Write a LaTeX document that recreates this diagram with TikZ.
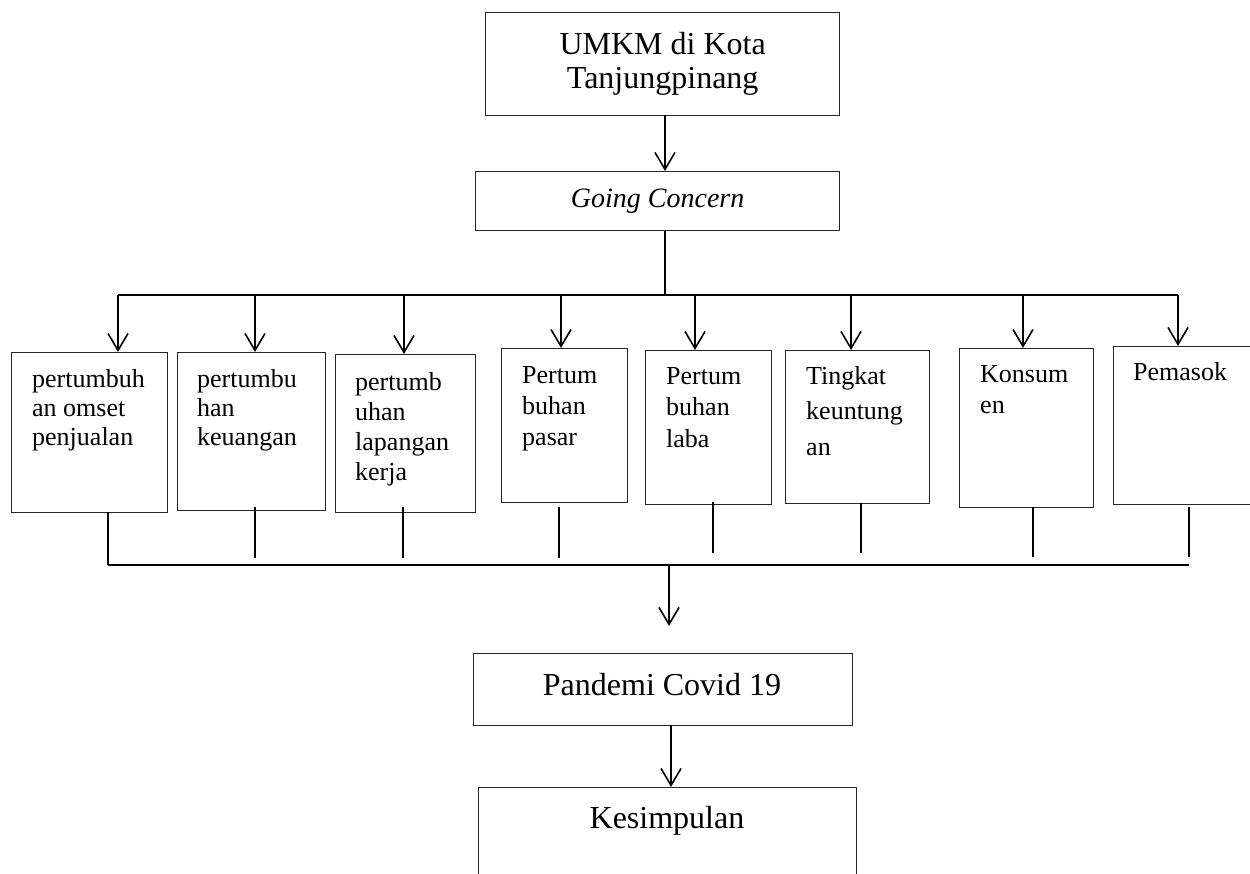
\documentclass[tikz,border=0pt]{standalone}
\usepackage{fontspec}
\setmainfont{Liberation Serif}
\usetikzlibrary{arrows.meta}
\begin{document}
\begin{tikzpicture}[x=1pt,y=-1pt,
  box/.style={draw=black!85,line width=1.3pt,rectangle,inner sep=0pt,anchor=north west},
  conn/.style={draw=black,line width=1.6pt},
  arr/.style={conn,-{Straight Barb[length=17pt,width=20pt,line width=1.6pt]}},
  smalltxt/.style={inner sep=0pt,anchor=north west,align=left},
]
\clip (0,0) rectangle (1250,874);
\fill[white] (0,0) rectangle (1250,874);

% top boxes
\node[box,minimum width=354pt,minimum height=103pt,align=center,
      font=\fontsize{32}{34}\selectfont] (umkm) at (485,12) {UMKM di Kota\\Tanjungpinang};
\node[box,minimum width=364pt,minimum height=59pt,
      font=\fontsize{28}{30}\selectfont\itshape] (gc) at (475,171) {Going Concern};

% middle boxes
\node[box,minimum width=156pt,minimum height=160pt] (b1) at (11,352) {};
\node[box,minimum width=148pt,minimum height=158pt] (b2) at (177,352) {};
\node[box,minimum width=140pt,minimum height=158pt] (b3) at (335,354) {};
\node[box,minimum width=126pt,minimum height=154pt] (b4) at (501,348) {};
\node[box,minimum width=126pt,minimum height=154pt] (b5) at (645,350) {};
\node[box,minimum width=144pt,minimum height=153pt] (b6) at (785,350) {};
\node[box,minimum width=134pt,minimum height=159pt] (b7) at (959,348) {};
\node[box,minimum width=150pt,minimum height=158pt] (b8) at (1113,346) {};

% texts in middle boxes
\node[smalltxt,font=\fontsize{26}{29}\selectfont] (x1) at (32,369) {pertumbuh\\an omset\\penjualan};
\node[smalltxt,font=\fontsize{26}{29}\selectfont] (x2) at (197,369) {pertumbu\\han\\keuangan};
\node[smalltxt,font=\fontsize{26}{30}\selectfont] (x3) at (355,372) {pertumb\\uhan\\lapangan\\kerja};
\node[smalltxt,font=\fontsize{26}{31}\selectfont] (x4) at (522,366) {Pertum\\buhan\\pasar};
\node[smalltxt,font=\fontsize{26}{31.5}\selectfont] (x5) at (666,367) {Pertum\\buhan\\laba};
\node[smalltxt,font=\fontsize{26}{35.5}\selectfont] (x6) at (806,366) {Tingkat\\keuntung\\an};
\node[smalltxt,font=\fontsize{26}{31}\selectfont] (x7) at (980,365) {Konsum\\en};
\node[smalltxt,font=\fontsize{26}{31}\selectfont] (x8) at (1133,362) {Pemasok};

% lower boxes
\node[box,minimum width=379pt,minimum height=72pt] (pc) at (473,653) {};
\node[inner sep=0pt,anchor=base,font=\fontsize{32}{34}\selectfont] (pct) at (662,695) {Pandemi Covid 19};
\node[box,minimum width=378pt,minimum height=130pt] (ks) at (478,787) {};
\node[inner sep=0pt,anchor=base,font=\fontsize{32}{34}\selectfont] (kst) at (667,828) {Kesimpulan};

% connector UMKM -> Going Concern
\coordinate (ua) at (665,115);
\draw[arr] (ua) -- (ua |- gc.north);

% top bus
\coordinate (j) at (665,295);
\coordinate (t1) at (118,295);
\coordinate (t2) at (255,295);
\coordinate (t3) at (404,295);
\coordinate (t4) at (561,295);
\coordinate (t5) at (695,295);
\coordinate (t6) at (851,295);
\coordinate (t7) at (1023,295);
\coordinate (t8) at (1178,295);
\draw[conn] (j |- gc.south) -- (j);
\draw[conn] (t1) -- (t8);
\draw[arr] (t1) -- (t1 |- b1.north);
\draw[arr] (t2) -- (t2 |- b2.north);
\draw[arr] (t3) -- (t3 |- b3.north);
\draw[arr] (t4) -- (t4 |- b4.north);
\draw[arr] (t5) -- (t5 |- b5.north);
\draw[arr] (t6) -- (t6 |- b6.north);
\draw[arr] (t7) -- (t7 |- b7.north);
\draw[arr] (t8) -- (t8 |- b8.north);

% bottom stubs
\coordinate (s1) at (108,512); \coordinate (e1) at (108,565);
\coordinate (s2) at (255,507); \coordinate (e2) at (255,558);
\coordinate (s3) at (403,507); \coordinate (e3) at (403,558);
\coordinate (s4) at (559,507); \coordinate (e4) at (559,558);
\coordinate (s5) at (713,502); \coordinate (e5) at (713,553);
\coordinate (s6) at (861,503); \coordinate (e6) at (861,553);
\coordinate (s7) at (1033,507); \coordinate (e7) at (1033,557);
\coordinate (s8) at (1189,507); \coordinate (e8) at (1189,557);
\draw[conn] (s1) -- (e1);
\draw[conn] (s2) -- (e2);
\draw[conn] (s3) -- (e3);
\draw[conn] (s4) -- (e4);
\draw[conn] (s5) -- (e5);
\draw[conn] (s6) -- (e6);
\draw[conn] (s7) -- (e7);
\draw[conn] (s8) -- (e8);
\coordinate (bb) at (1189,565);
\draw[conn] (e1) -- (bb);

% bottom bus -> Pandemi
\coordinate (d1) at (669,565);
\coordinate (d2) at (669,626);
\draw[arr] (d1) -- (d2);

% Pandemi -> Kesimpulan
\coordinate (pk) at (671,725);
\draw[arr] (pk) -- (pk |- ks.north);
\end{tikzpicture}
\end{document}
